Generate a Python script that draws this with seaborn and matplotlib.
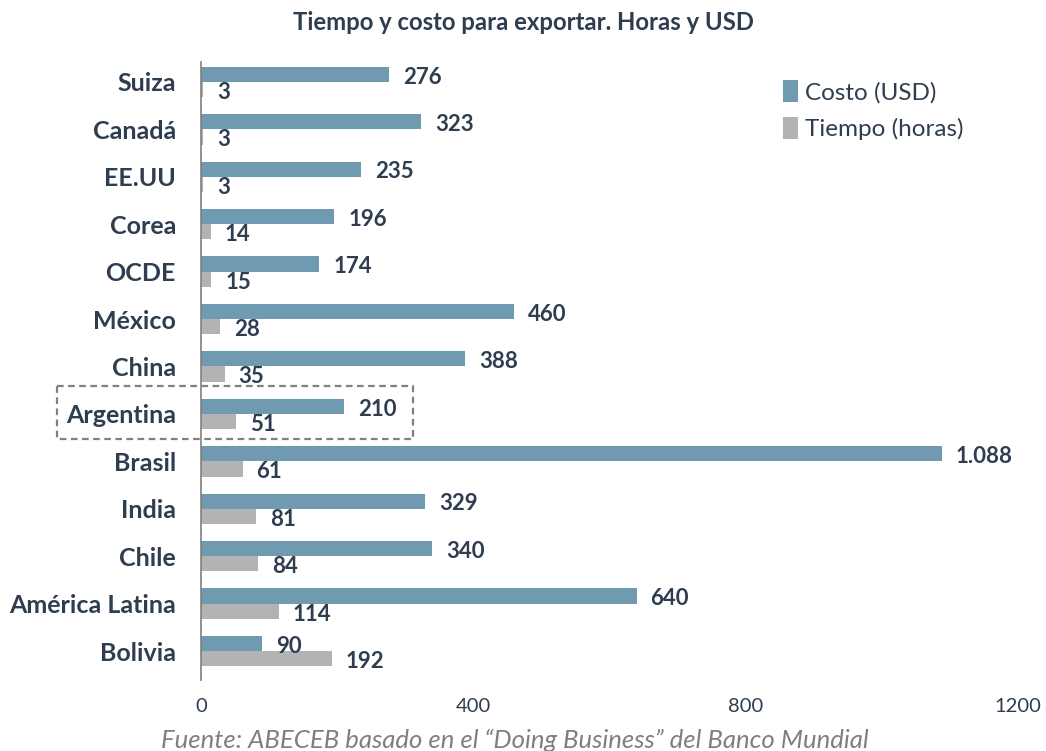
import matplotlib
matplotlib.use("Agg")
import matplotlib.pyplot as plt
from matplotlib.patches import Rectangle
import seaborn as sns
import pandas as pd

categories = ["Suiza", "Canadá", "EE.UU", "Corea", "OCDE", "México", "China",
              "Argentina", "Brasil", "India", "Chile", "América Latina", "Bolivia"]
costo = [276, 323, 235, 196, 174, 460, 388, 210, 1088, 329, 340, 640, 90]
tiempo = [3, 3, 3, 14, 15, 28, 35, 51, 61, 81, 84, 114, 192]
series_names = ["Costo (USD)", "Tiempo (horas)"]
x_ticks = [0, 400, 800, 1200]

sns.set_theme(style="white")
plt.rcParams["font.family"] = ["Lato", "DejaVu Sans"]

TXT = "#2e3d4f"
BLUE = "#6f9ab0"
GREY = "#b3b3b3"

df = pd.DataFrame({
    "pais": categories * 2,
    "valor": costo + tiempo,
    "serie": [series_names[0]] * len(categories) + [series_names[1]] * len(categories),
})

fig = plt.figure(figsize=(10.46, 7.51), dpi=100)
# axes: x from 201px to 1018px, y from 62px to 680px
ax = fig.add_axes([201 / 1046, 1 - 680 / 751, (1018 - 201) / 1046, (680 - 62) / 751])

sns.barplot(data=df, y="pais", x="valor", hue="serie", orient="h",
            palette=[BLUE, GREY], saturation=1, width=0.64, gap=0, linewidth=0,
            order=categories, hue_order=series_names, ax=ax)

def fmt(v):
    return f"{v:,}".replace(",", ".")

for cont in ax.containers:
    for bar in cont:
        w = bar.get_width()
        yc = bar.get_y() + bar.get_height() / 2
        ax.annotate(fmt(int(round(w))), xy=(w, yc), xytext=(10, -2),
                    textcoords="offset points", ha="left", va="center",
                    fontsize=16, fontweight="bold", color=TXT)

ax.set_xlim(0, 1200)
ax.set_ylim(len(categories) - 1 + 0.61, -0.42)
ax.set_xticks(x_ticks)
ax.set_xticklabels([str(t) for t in x_ticks], fontsize=14.5, color=TXT)
ax.set_xlabel("")
ax.set_ylabel("")
for lab in ax.get_yticklabels():
    lab.set_fontweight("bold")
    lab.set_fontsize(18)
    lab.set_color(TXT)
ax.tick_params(axis="x", length=0, pad=13)
ax.tick_params(axis="y", length=0, pad=18)
for s in ["top", "right", "bottom"]:
    ax.spines[s].set_visible(False)
ax.spines["left"].set_color("#808080")
ax.spines["left"].set_linewidth(1.2)

handles, labels = ax.get_legend_handles_labels()
ax.legend(handles, labels, loc="upper left", bbox_to_anchor=(0.728, 0.922),
          bbox_transform=fig.transFigure, frameon=False, fontsize=17.5,
          handlelength=0.6, handleheight=1.0, handletextpad=0.3,
          labelspacing=0.55, labelcolor=TXT)

# dashed box around Argentina
idx = categories.index("Argentina")
rect = Rectangle((-211, idx - 0.58), 522, 1.1, fill=False, linestyle=(0, (3, 2)),
                 edgecolor="#808080", linewidth=1.6, clip_on=False)
ax.add_patch(rect)

fig.text(0.5, 1 - 22 / 751, "Tiempo y costo para exportar. Horas y USD", ha="center",
         va="center", fontsize=17.2, fontweight="bold", color=TXT)
fig.text(0.492, 1 - 740 / 751, "Fuente: ABECEB basado en el \u201cDoing Business\u201d del Banco Mundial",
         ha="center", va="center", fontsize=18.5, style="italic", color="#7f7f7f")

fig.savefig("out.png", dpi=100)
